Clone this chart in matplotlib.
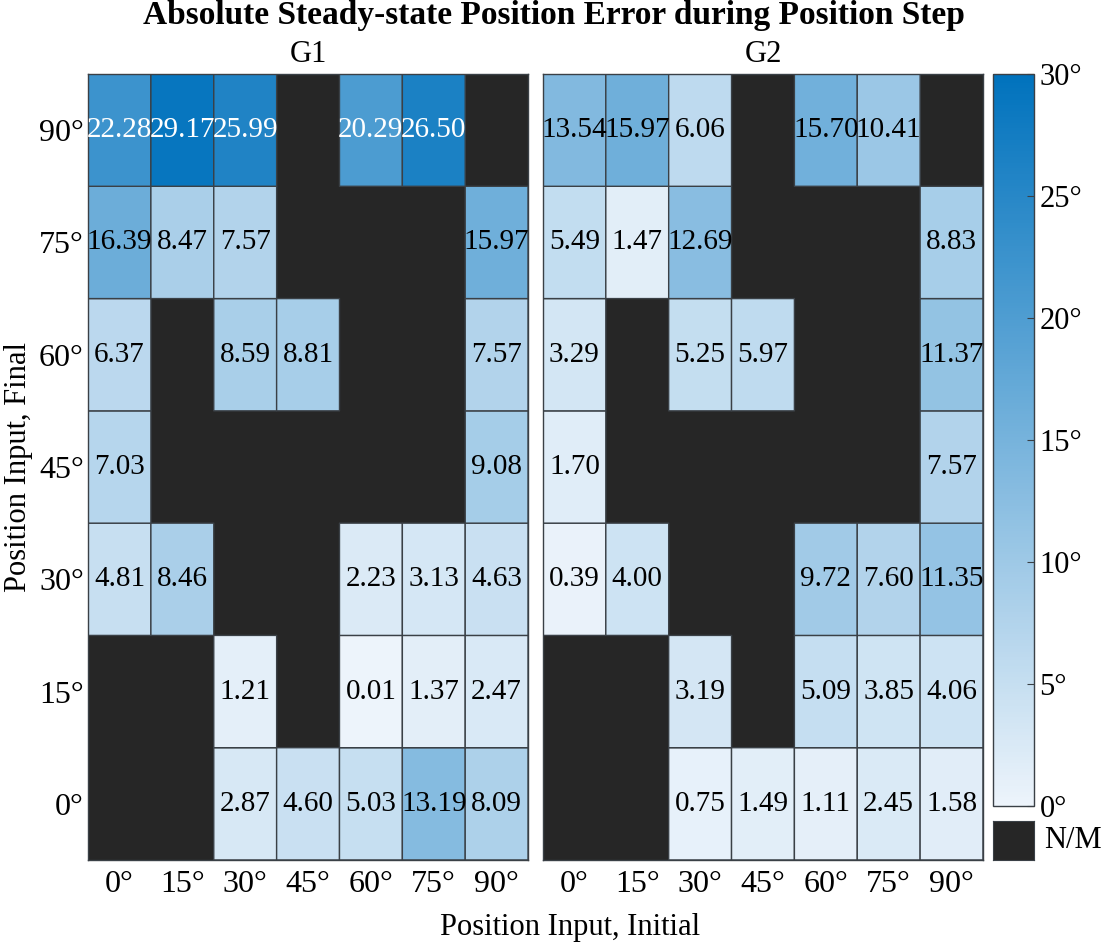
import numpy as np
import matplotlib.pyplot as plt
from matplotlib.colors import LinearSegmentedColormap
from matplotlib.patches import Rectangle

plt.rcParams['font.family'] = ['Liberation Serif', 'DejaVu Serif']

angles = [0, 15, 30, 45, 60, 75, 90]
tick_labels = ['%d°' % a for a in angles]
nm = np.nan

# rows: final position 0° .. 90° (bottom to top), cols: initial position 0° .. 90°
g1 = [
    [nm, nm, 2.87, 4.60, 5.03, 13.19, 8.09],
    [nm, nm, 1.21, nm, 0.01, 1.37, 2.47],
    [4.81, 8.46, nm, nm, 2.23, 3.13, 4.63],
    [7.03, nm, nm, nm, nm, nm, 9.08],
    [6.37, nm, 8.59, 8.81, nm, nm, 7.57],
    [16.39, 8.47, 7.57, nm, nm, nm, 15.97],
    [22.28, 29.17, 25.99, nm, 20.29, 26.50, nm],
]
g2 = [
    [nm, nm, 0.75, 1.49, 1.11, 2.45, 1.58],
    [nm, nm, 3.19, nm, 5.09, 3.85, 4.06],
    [0.39, 4.00, nm, nm, 9.72, 7.60, 11.35],
    [1.70, nm, nm, nm, nm, nm, 7.57],
    [3.29, nm, 5.25, 5.97, nm, nm, 11.37],
    [5.49, 1.47, 12.69, nm, nm, nm, 8.83],
    [13.54, 15.97, 6.06, nm, 15.70, 10.41, nm],
]
panels = ['G1', 'G2']
cb_ticks = [0, 5, 10, 15, 20, 25, 30]

cmap = LinearSegmentedColormap.from_list('wb', ['#edf4fb', '#0072bd'])
nm_color = '#262626'
edge = '#3a4046'

fig = plt.figure(figsize=(11.02, 9.44), dpi=100)
ax1 = fig.add_axes([0.0799, 0.089, 0.3993, 0.8326])
ax2 = fig.add_axes([0.4927, 0.089, 0.3993, 0.8326])

for ax, data, name in zip([ax1, ax2], [g1, g2], panels):
    arr = np.ma.masked_invalid(np.array(data))
    ax.set_facecolor(nm_color)
    mesh = ax.pcolor(arr, cmap=cmap, vmin=0, vmax=30,
                     edgecolors=edge, linewidth=1.0)
    for i in range(arr.shape[0]):
        for j in range(arr.shape[1]):
            v = data[i][j]
            if not np.isnan(v):
                ax.text(j + 0.5, i + 0.5, '%.2f' % v, ha='center', va='center',
                        fontsize=21, color='white' if v > 20 else 'black')
    ax.set_xticks(np.arange(7) + 0.5)
    ax.set_xticklabels(tick_labels, fontsize=23)
    ax.set_yticks(np.arange(7) + 0.5)
    ax.tick_params(axis='x', length=0, pad=7)
    ax.tick_params(axis='y', length=0, pad=3)
    ax.set_title(name, fontsize=22, pad=9)
    ax.set_xlim(0, 7)
    ax.set_ylim(0, 7)
    for s in ax.spines.values():
        s.set_color(edge)
        s.set_linewidth(1.0)

ax1.set_yticklabels(tick_labels, fontsize=23)
ax2.set_yticklabels([])
ax1.set_ylabel('Position Input, Final', fontsize=22, labelpad=4)

fig.text(0.517, 0.018, 'Position Input, Initial', ha='center', va='center', fontsize=22)
fig.text(0.503, 0.984, 'Absolute Steady-state Position Error during Position Step',
         ha='center', va='center', fontsize=24, fontweight='bold')

cax = fig.add_axes([0.9011, 0.1462, 0.0372, 0.7754])
cb = fig.colorbar(mesh, cax=cax, ticks=cb_ticks)
cb.ax.set_yticklabels(['%d°' % t for t in cb_ticks], fontsize=22)
cb.ax.tick_params(direction='in', length=5, width=0.8, color=edge, pad=4)
cb.outline.set_edgecolor(edge)
cb.outline.set_linewidth(1.0)

nax = fig.add_axes([0.9011, 0.089, 0.0372, 0.0413])
nax.add_patch(Rectangle((0, 0), 1, 1, facecolor=nm_color, edgecolor='none'))
nax.set_xlim(0, 1)
nax.set_ylim(0, 1)
nax.set_xticks([])
nax.set_yticks([])
for s in nax.spines.values():
    s.set_color(edge)
nax.text(1.25, 0.5, 'N/M', transform=nax.transAxes, ha='left', va='center', fontsize=22)

fig.savefig('out.png', dpi=100)
